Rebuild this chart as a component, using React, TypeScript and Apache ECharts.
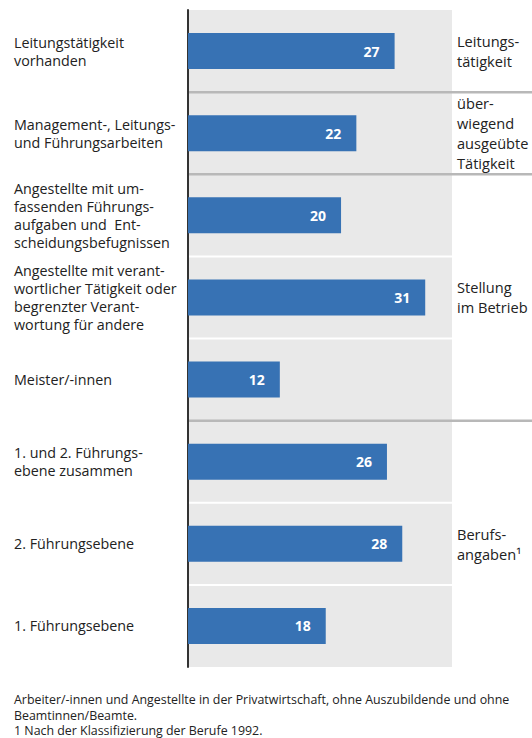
import React, { useEffect, useRef } from "react";
import * as echarts from "echarts";

const categories = [
  "Leitungstätigkeit\nvorhanden",
  "Management-, Leitungs-\nund Führungsarbeiten",
  "Angestellte mit um-\nfassenden Führungs-\naufgaben und  Ent-\nscheidungsbefugnissen",
  "Angestellte mit verant-\nwortlicher Tätigkeit oder\nbegrenzter Verant-\nwortung für andere",
  "Meister/-innen",
  "1. und 2. Führungs-\nebene zusammen",
  "2. Führungsebene",
  "1. Führungsebene",
];
const values = [27, 22, 20, 31, 12, 26, 28, 18];
const groupLabels = [
  "Leitungs-\ntätigkeit",
  "über-\nwiegend\nausgeübte\nTätigkeit",
  "",
  "Stellung\nim Betrieb",
  "",
  "",
  "Berufs-\nangaben¹",
  "",
];
// index after which a group separator is drawn
const groupBreaks = [0, 1, 4];
// index after which a thin white separator is drawn
const rowBreaks = [2, 3, 5, 6];
const footnote =
  "Arbeiter/-innen und Angestellte in der Privatwirtschaft, ohne Auszubildende und ohne\nBeamtinnen/Beamte.\n1 Nach der Klassifizierung der Berufe 1992.";

const FONT = "'Open Sans', sans-serif";
const X_MAX = 34.5;

export default function App() {
  const ref = useRef<HTMLDivElement>(null);
  useEffect(() => {
    if (!ref.current) return;
    const chart = echarts.init(ref.current, null, { renderer: "svg" });
    chart.setOption({
      animation: false,
      backgroundColor: "#ffffff",
      textStyle: { fontFamily: FONT },
      grid: {
        left: 188,
        right: 80,
        top: 10,
        bottom: 71,
        containLabel: false,
        outerBoundsMode: "none",
      },
      xAxis: {
        type: "value",
        min: 0,
        max: X_MAX,
        show: false,
      },
      yAxis: [
        {
          type: "category",
          data: categories,
          inverse: true,
          axisLine: { show: true, lineStyle: { color: "#333333", width: 2 } },
          axisTick: { show: false },
          splitArea: { show: true, areaStyle: { color: ["#e9e9e9"] } },
          splitLine: { show: false },
          axisLabel: {
            interval: 0,
            align: "left",
            margin: 174,
            fontSize: 14.3,
            lineHeight: 18,
            color: "#222222",
            fontFamily: FONT,
          },
          z: 3,
        },
        {
          type: "category",
          data: categories,
          inverse: true,
          position: "right",
          axisLine: { show: false },
          axisTick: { show: false },
          axisLabel: {
            interval: 0,
            align: "left",
            margin: 5,
            fontSize: 14.6,
            lineHeight: 20,
            color: "#222222",
            fontFamily: FONT,
            formatter: (_v: string, i: number) => groupLabels[i],
          },
        },
      ],
      series: [
        {
          type: "bar",
          data: values,
          barWidth: 36,
          itemStyle: { color: "#3772b4" },
          label: {
            show: true,
            position: "insideRight",
            distance: 15,
            color: "#ffffff",
            fontWeight: "bold",
            fontSize: 14,
            fontFamily: FONT,
          },
          z: 4,
        },
      ],
    });

    const yc = (i: number) => chart.convertToPixel({ yAxisIndex: 0 }, i) as number;
    const xr = chart.convertToPixel({ xAxisIndex: 0 }, X_MAX) as number;
    const xl = chart.convertToPixel({ xAxisIndex: 0 }, 0) as number;
    const mid = (i: number) => (yc(i) + yc(i + 1)) / 2;
    const elements: any[] = [];
    rowBreaks.forEach((i) => {
      elements.push({
        type: "line",
        shape: { x1: xl + 1, y1: mid(i), x2: xr, y2: mid(i) },
        style: { stroke: "#ffffff", lineWidth: 2 },
        z: 10,
      });
    });
    groupBreaks.forEach((i) => {
      elements.push({
        type: "line",
        shape: { x1: xl + 1, y1: mid(i), x2: 532, y2: mid(i) },
        style: { stroke: "#b8b8b8", lineWidth: 2.5 },
        z: 10,
      });
    });
    elements.push({
      type: "text",
      left: 14,
      top: 692,
      style: {
        text: footnote,
        fontSize: 12.4,
        lineHeight: 15.5,
        fill: "#222222",
        fontFamily: FONT,
      },
      z: 10,
    });
    chart.setOption({ graphic: { elements } });

    return () => chart.dispose();
  }, []);
  return (
    <div
      ref={ref}
      style={{ position: "absolute", left: 0, top: 0, width: 532, height: 738 }}
    />
  );
}
